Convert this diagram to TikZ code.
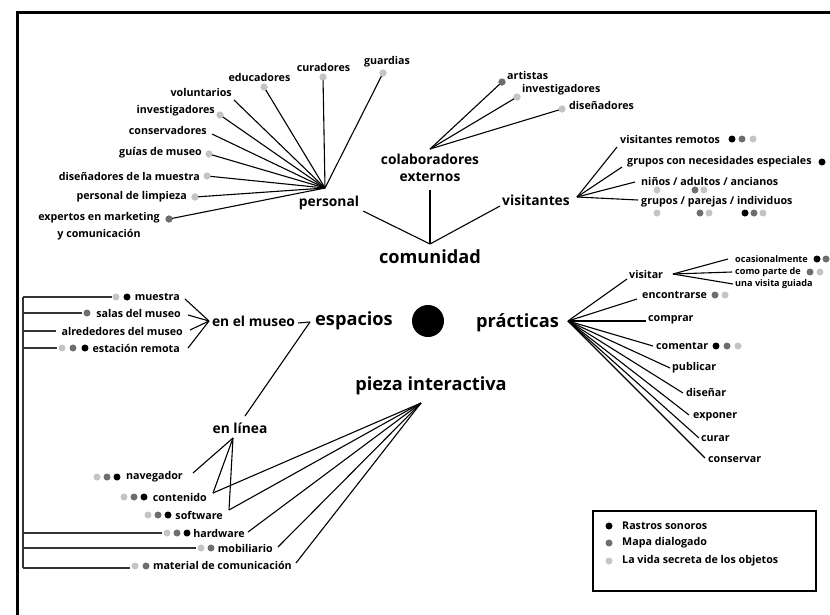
\documentclass[tikz,border=0pt]{standalone}
\usepackage{fontspec}
\setmainfont{Open Sans}
\begin{document}
\begin{tikzpicture}[x=1pt,y=-1pt,
  every node/.style={inner sep=0pt},
  lbl/.style={font=\bfseries\fontsize{10.7}{12}\selectfont},
  sml/.style={font=\bfseries\fontsize{9.1}{10}\selectfont},
  mid/.style={font=\bfseries\fontsize{13.8}{17}\selectfont},
  big/.style={font=\bfseries\fontsize{18.2}{20}\selectfont},
  ln/.style={line width=1.1pt,black},
  br/.style={line width=1.1pt,black!80},
  dot/.style={circle,minimum size=7pt,draw=none},
  blk/.style={dot,fill=black},
  dk/.style={dot,fill=dkg},
  lt/.style={dot,fill=ltg}]
\definecolor{dkg}{RGB}{110,110,110}
\definecolor{ltg}{RGB}{196,196,196}
\useasboundingbox (0,0) rectangle (830,614);
\clip (0,0) rectangle (830,614);
% outer frame
\coordinate (fA) at (17,630);
\coordinate (fB) at (17,12);
\coordinate (fC) at (840,12);
\draw[line width=3pt] (fA) -- (fB) -- (fC);

% ===== comunidad =====
\node[big] (com) at (430,257) {comunidad};
\coordinate (comH) at (430,244);

% personal
\coordinate (pH) at (325,188);
\node[mid] (pers) at (329,203) {personal};
\coordinate (persOut) at (363,211);
\draw[ln] (persOut) -- (comH);
\node[lbl] (guard) at (387,62) {guardias};
\node[lt] (dGuard) at (383,73) {};
\node[lbl] (cur) at (323.5,67) {curadores};
\node[lt] (dCur) at (323,77) {};
\node[lbl] (edu) at (259.5,77) {educadores};
\node[lt] (dEdu) at (264,87) {};
\node[lbl,anchor=east] (vol) at (232,92) {voluntarios};
\coordinate (eVol) at (234,100);
\node[lbl,anchor=east] (inv) at (215,111) {investigadores};
\node[lt] (dInv) at (220,115) {};
\node[lbl,anchor=east] (cons) at (207,130) {conservadores};
\coordinate (eCons) at (212,134);
\node[lbl,anchor=east] (guias) at (202,153) {guías de museo};
\node[lt] (dGuias) at (209,154) {};
\node[lbl,anchor=east] (dise) at (200,176) {diseñadores de la muestra};
\node[lt] (dDise) at (207,176) {};
\node[lbl,anchor=east] (limp) at (187,197) {personal de limpieza};
\node[lt] (dLimp) at (195,197) {};
\node[lbl,align=center,font=\bfseries\fontsize{10.7}{17}\selectfont] (expe) at (99,226.5) {expertos en marketing\\y comunicación};
\node[dk] (dExpe) at (169,219) {};
\foreach \e in {dGuard,dCur,dEdu,eVol,dInv,eCons,dGuias,dDise,dLimp,dExpe}
  \draw[ln] (\e.center) -- (pH);
\foreach \e in {dGuard,dCur,dEdu,dInv,dGuias,dDise,dLimp}
  \node[lt] at (\e) {};
\node[dk] at (dExpe) {};

% colaboradores externos
\coordinate (cH) at (430,149);
\node[mid,align=center] (colab) at (430,168) {colaboradores\\externos};
\coordinate (colabOut) at (430,190);
\draw[ln] (colabOut) -- (comH);
\node[lbl,anchor=west] (art) at (507,75) {artistas};
\node[dk] (dArt) at (502,82) {};
\node[lbl,anchor=west] (inv2) at (522,90) {investigadores};
\node[lt] (dInv2) at (517,97) {};
\node[lbl,anchor=west] (dis2) at (569,105) {diseñadores};
\node[lt] (dDis2) at (562,109) {};
\foreach \e in {dArt,dInv2,dDis2}
  \draw[ln] (\e.center) -- (cH);
\node[dk] at (dArt) {};
\node[lt] at (dInv2) {};
\node[lt] at (dDis2) {};

% visitantes
\node[mid] (vis) at (536,200) {visitantes};
\coordinate (visOut) at (500,206);
\draw[ln] (visOut) -- (comH);
\coordinate (vH) at (577,197);
\node[lbl,anchor=west] (rem) at (620,139) {visitantes remotos};
\coordinate (eRem) at (617,147);
\node[blk] (r1) at (732,139) {};
\node[dk] (r2) at (742,139) {};
\node[lt] (r3) at (753,139) {};
\node[lbl,anchor=west] (nec) at (627,162) {grupos con necesidades especiales};
\coordinate (eNec) at (622,167);
\node[blk] (n1) at (822,162) {};
\node[lbl,anchor=west] (nin) at (641,181) {niños / adultos / ancianos};
\coordinate (eNin) at (635,182);
\node[lt] (a1) at (657,190) {};
\node[dk] (a2) at (695,190) {};
\node[lt] (a3) at (704,190) {};
\node[lbl,anchor=west] (gru) at (641,202) {grupos / parejas / individuos};
\coordinate (eGru) at (638,200);
\node[lt] (g1) at (657,213) {};
\node[dk] (g2) at (700,213) {};
\node[lt] (g3) at (709,213) {};
\node[blk] (g4) at (745,213) {};
\node[dk] (g5) at (754,213) {};
\node[lt] (g6) at (763,213) {};
\foreach \e in {eRem,eNec,eNin,eGru}
  \draw[ln] (\e) -- (vH);

% ===== espacios =====
\node[big] (esp) at (354,321) {espacios};
\node[circle,fill=black,minimum size=32pt] (ctr) at (428,321) {};
\coordinate (esH) at (310,322);
\node[mid] (mus) at (253.5,321) {en el museo};
\coordinate (musOut) at (298,323);
\draw[ln] (musOut) -- (esH);
\coordinate (mH) at (209,321);
\node[lbl,anchor=east] (mue) at (180,297) {muestra};
\node[blk] (mue2) at (127,297) {};
\node[lt] (mue1) at (116,297) {};
\coordinate (eMue) at (185,299);
\node[lbl,anchor=east] (sal) at (181,313) {salas del museo};
\node[dk] (sal1) at (87,313) {};
\coordinate (eSal) at (188,315);
\node[lbl,anchor=east] (alr) at (183,331) {alrededores del museo};
\coordinate (eAlr) at (190,330);
\node[lbl,anchor=east] (est) at (180,348) {estación remota};
\node[lt] (est1) at (62,348) {};
\node[dk] (est2) at (73,348) {};
\node[blk] (est3) at (85,348) {};
\coordinate (eEst) at (188,348);
\foreach \e in {eMue,eSal,eAlr,eEst}
  \draw[ln] (\e) -- (mH);

% en linea
\node[mid] (lin) at (240,428) {en línea};
\coordinate (linTop) at (245,416);
\draw[ln] (esH) -- (linTop);
\coordinate (elH) at (233,438);
\node[lbl,anchor=east] (nav) at (183,477) {navegador};
\node[lt] at (97,477) {};
\node[dk] at (107,477) {};
\node[blk] at (117,477) {};
\coordinate (eNav) at (193,473);
\node[lbl,anchor=east] (con) at (207,497) {contenido};
\node[lt] at (124,497) {};
\node[dk] at (134,497) {};
\node[blk] at (144,497) {};
\coordinate (eCon) at (213,493);
\node[lbl,anchor=east] (sof) at (223,515) {software};
\node[lt] at (148,515) {};
\node[dk] at (158,515) {};
\node[blk] at (168,515) {};
\coordinate (eSof) at (229,510);
\node[lbl,anchor=east] (har) at (245,533) {hardware};
\node[lt] (har1) at (167,533) {};
\node[dk] at (177,533) {};
\node[blk] at (187,533) {};
\coordinate (eHar) at (248,532);
\node[lbl,anchor=east] (mob) at (273,548) {mobiliario};
\node[lt] (mob1) at (201,548) {};
\node[dk] at (211,548) {};
\coordinate (eMob) at (278,547);
\node[lbl,anchor=east] (mat) at (292,565) {material de comunicación};
\node[lt] (mat1) at (135,566) {};
\node[dk] at (146,566) {};
\coordinate (eMat) at (296,563);
\foreach \e in {eNav,eCon,eSof}
  \draw[ln] (\e) -- (elH);

% pieza interactiva
\node[big] (pie) at (431,386) {pieza interactiva};
\coordinate (pzH) at (421,403);
\foreach \e in {eCon,eSof,eHar,eMob,eMat}
  \draw[ln] (\e) -- (pzH);

% left bracket
\coordinate (bT) at (23,297);
\coordinate (bB) at (23,568);
\draw[br] (bT) -- (bB);
\coordinate (b1) at (23,297);
\coordinate (b2) at (23,313);
\coordinate (b3) at (23,331);
\coordinate (b4) at (23,348);
\coordinate (b5) at (23,533);
\coordinate (b6) at (23,548);
\draw[br] (b1) -- (mue1.west);
\draw[br] (b2) -- ([xshift=-1pt]sal1.west);
\draw[br] (b3) -- ([xshift=-5pt]alr.west);
\draw[br] (b4) -- ([xshift=-1pt]est1.west);
\draw[br] (b5) -- ([xshift=-1pt]har1.west);
\draw[br] (b6) -- ([xshift=-1pt]mob1.west);
\draw[br] (bB) -- ([xshift=-1pt]mat1.west|-bB);

% ===== practicas =====
\node[big] (pra) at (517.5,323) {prácticas};
\coordinate (prH) at (568,321);
\node[lbl,anchor=west] (vst) at (629,274) {visitar};
\coordinate (eVst) at (627,279);
\coordinate (vsH) at (673,274);
\node[sml,anchor=west] (oca) at (735,259) {ocasionalmente};
\node[blk] at (817,259) {};
\node[dk] at (826,259) {};
\coordinate (eOca) at (728,259);
\node[sml,anchor=west] (cpd) at (735,272) {como parte de};
\node[dk] at (810,272) {};
\node[lt] at (820,272) {};
\coordinate (eCpd) at (732,272);
\node[sml,anchor=west] (uvg) at (735,284) {una visita guiada};
\coordinate (eUvg) at (733,284);
\foreach \e in {eOca,eCpd,eUvg}
  \draw[ln] (\e) -- (vsH);
\node[lbl,anchor=west] (enc) at (642,295) {encontrarse};
\node[dk] at (715,295) {};
\node[lt] at (725,295) {};
\coordinate (eEnc) at (637,299);
\node[lbl,anchor=west] (com2) at (648,320) {comprar};
\coordinate (eCom) at (646,321);
\node[lbl,anchor=west] (cmt) at (656,346) {comentar};
\node[blk] at (716,346) {};
\node[dk] at (727,346) {};
\node[lt] at (738,346) {};
\coordinate (eCmt) at (653,346);
\node[lbl,anchor=west] (pub) at (672,368) {publicar};
\coordinate (ePub) at (670,368);
\node[lbl,anchor=west] (dsn) at (686,392) {diseñar};
\coordinate (eDsn) at (683,393);
\node[lbl,anchor=west] (exp) at (693,417) {exponer};
\coordinate (eExp) at (689,415);
\node[lbl,anchor=west] (cra) at (701,439) {curar};
\coordinate (eCra) at (699,438);
\node[lbl,anchor=west] (csv) at (708,460) {conservar};
\coordinate (eCsv) at (705,458);
\foreach \e in {eVst,eEnc,eCom,eCmt,ePub,eDsn,eExp,eCra,eCsv}
  \draw[ln] (\e) -- (prH);

% ===== legend =====
\node[draw,line width=2pt,minimum width=223pt,minimum height=80pt,anchor=north west] (leg) at (592,510) {};
\node[blk] (l1) at (609,526) {};
\node[dk] (l2) at (609,543) {};
\node[lt] (l3) at (609,561) {};
\node[lbl,anchor=west] (t1) at (622,526) {Rastros sonoros};
\node[lbl,anchor=west] (t2) at (622,543) {Mapa dialogado};
\node[lbl,anchor=west] (t3) at (622,561) {La vida secreta de los objetos};
\end{tikzpicture}
\end{document}
